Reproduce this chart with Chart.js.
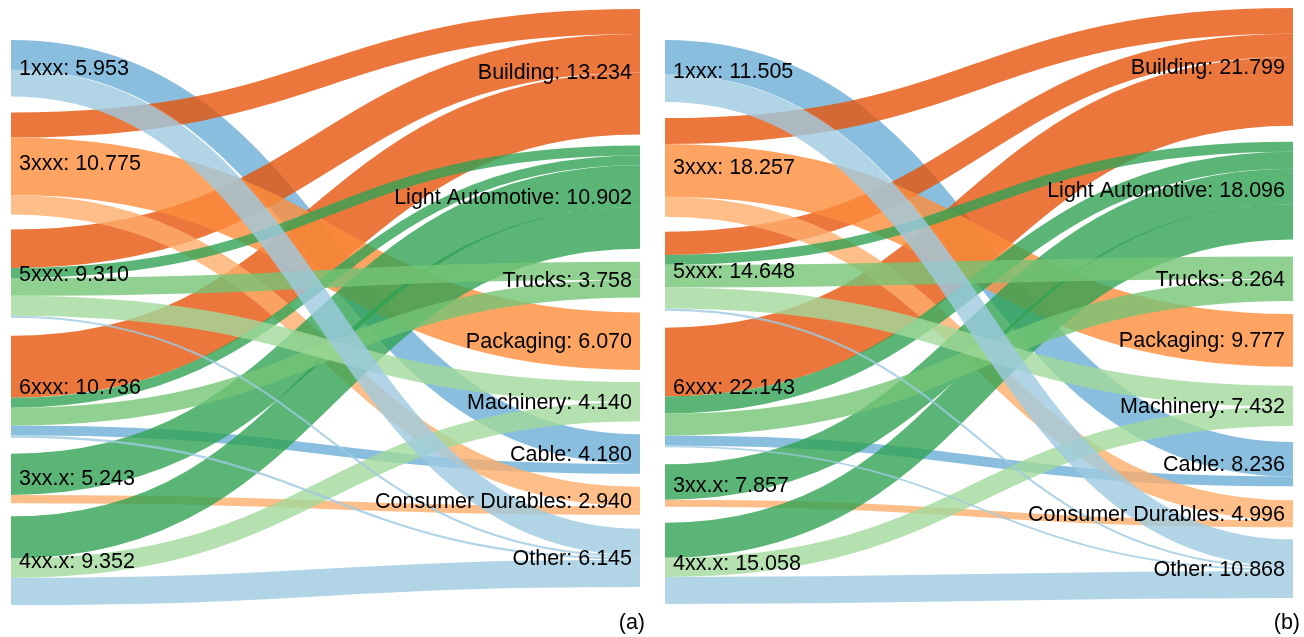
<!DOCTYPE html>
<html>
<head>
<meta charset="utf-8">
<script src="https://cdn.jsdelivr.net/npm/chart.js"></script>
<style>
  html, body { margin: 0; padding: 0; background: #fff; }
  #wrap { position: relative; width: 1304px; height: 637px; overflow: hidden; }
  #wrap canvas { position: absolute; top: 0; }
</style>
</head>
<body>
<div id="wrap">
  <canvas id="chartA" width="652" height="637" style="left:0px"></canvas>
  <canvas id="chartB" width="652" height="637" style="left:652px"></canvas>
</div>
<script>
// alloy series (left column) and end uses (right column)
const sources = ["1xxx", "3xxx", "5xxx", "6xxx", "3xx.x", "4xx.x"];
const targets = ["Building", "Light Automotive", "Trucks", "Packaging", "Machinery", "Cable", "Consumer Durables", "Other"];

// (a)
const sourceTotalsA = [5.953, 10.775, 9.310, 10.736, 5.243, 9.352];
const targetTotalsA = [13.234, 10.902, 3.758, 6.070, 4.140, 4.180, 2.940, 6.145];
// rows = sources, columns = targets (same order as above)
const flowsA = [
  [0, 0, 0, 0, 0, 3.150, 0, 2.803],
  [2.650, 0, 0, 6.070, 0, 0, 2.055, 0],
  [4.050, 1.050, 1.880, 0, 2.100, 0, 0, 0.230],
  [6.534, 1.050, 1.878, 0, 0, 1.030, 0, 0.244],
  [0, 4.358, 0, 0, 0, 0, 0.885, 0],
  [0, 4.444, 0, 0, 2.040, 0, 0, 2.868],
];

// (b)
const sourceTotalsB = [11.505, 18.257, 14.648, 22.143, 7.857, 15.058];
const targetTotalsB = [21.799, 18.096, 8.264, 9.777, 7.432, 8.236, 4.996, 10.868];
const flowsB = [
  [0, 0, 0, 0, 0, 6.400, 0, 5.105],
  [4.784, 0, 0, 9.777, 0, 0, 3.696, 0],
  [4.300, 1.850, 4.200, 0, 3.900, 0, 0, 0.398],
  [12.715, 3.178, 4.064, 0, 0, 1.836, 0, 0.350],
  [0, 6.557, 0, 0, 0, 0, 1.300, 0],
  [0, 6.511, 0, 0, 3.532, 0, 0, 5.015],
];

// link colour follows the end use (category20c shades)
const targetColors = ["#e6550d", "#31a354", "#74c476", "#fd8d3c", "#a1d99b", "#6baed6", "#fdae6b", "#9ecae1"];
// painting order of the end uses, back to front
const drawOrder = [5, 0, 3, 6, 1, 2, 4, 7];

const FONT = "21.5px 'Liberation Sans', Arial, sans-serif";

// work out where each node sits, in value units on the y scale
function buildLayout(p) {
  const sumR = p.targetTotals.reduce((a, b) => a + b, 0);
  const gapsR = p.rightGaps.reduce((a, b) => a + b, 0);
  const k = (p.rightBottom - p.top - gapsR) / sumR; // px per unit

  let acc = (p.leftTop - p.top) / k;
  const srcY = p.sourceTotals.map((v, i) => {
    const s = acc;
    acc += v + (p.leftGaps[i] || 0) / k;
    return s;
  });
  acc = 0;
  const tgtY = p.targetTotals.map((v, j) => {
    const s = acc;
    acc += v + (p.rightGaps[j] || 0) / k;
    return s;
  });

  // stack the links inside their nodes
  const links = [];
  const srcOff = sources.map(() => 0);
  const tgtOff = targets.map(() => 0);
  p.flows.forEach((row, s) => {
    row.forEach((v, t) => {
      if (!v) return;
      links.push({ s, t, v, sy: srcY[s] + srcOff[s], ty: tgtY[t] + tgtOff[t] });
      srcOff[s] += v;
      tgtOff[t] += v;
    });
  });

  return { srcY, tgtY, links, max: (p.bottom - p.top) / k };
}

const sankeyPlugin = {
  id: "sankey",
  afterDatasetsDraw(chart, args, opts) {
    const { ctx, scales } = chart;
    const x = scales.x;
    const y = scales.y;
    const lay = opts.layout;
    const x0 = x.getPixelForValue(0);
    const x1 = x.getPixelForValue(1);
    const xm = (x0 + x1) / 2;

    ctx.save();
    ctx.lineCap = "butt";
    ctx.globalAlpha = 0.8;
    drawOrder.forEach((t) => {
      lay.links
        .filter((l) => l.t === t)
        .forEach((l) => {
          const ya = y.getPixelForValue(l.sy + l.v / 2);
          const yb = y.getPixelForValue(l.ty + l.v / 2);
          const w = Math.abs(y.getPixelForValue(l.v) - y.getPixelForValue(0));
          ctx.strokeStyle = targetColors[t];
          ctx.lineWidth = w;
          ctx.beginPath();
          ctx.moveTo(x0, ya);
          ctx.bezierCurveTo(xm, ya, xm, yb, x1, yb);
          ctx.stroke();
        });
    });
    ctx.restore();

    // node labels, placed on the (invisible) node points
    const pts = chart.getDatasetMeta(0).data;
    ctx.save();
    ctx.font = FONT;
    ctx.fillStyle = "#000";
    ctx.textBaseline = "middle";
    pts.forEach((pt, i) => {
      if (i < sources.length) {
        ctx.textAlign = "left";
        ctx.fillText(sources[i] + ": " + opts.sourceTotals[i].toFixed(3), pt.x + 8, pt.y + 1);
      } else {
        const j = i - sources.length;
        ctx.textAlign = "right";
        ctx.fillText(targets[j] + ": " + opts.targetTotals[j].toFixed(3), pt.x - 8, pt.y + 1);
      }
    });
    ctx.textAlign = "right";
    ctx.fillText(opts.caption, chart.chartArea.right + opts.captionDx, 623);
    ctx.restore();
  },
};

function makePanel(id, p) {
  const lay = buildLayout(p);
  const nodePoints = [
    ...p.sourceTotals.map((v, i) => ({ x: 0, y: lay.srcY[i] + v / 2 })),
    ...p.targetTotals.map((v, j) => ({ x: 1, y: lay.tgtY[j] + v / 2 })),
  ];

  return new Chart(document.getElementById(id), {
    type: "scatter",
    data: {
      datasets: [{ data: nodePoints, pointRadius: 0, pointHoverRadius: 0 }],
    },
    options: {
      responsive: false,
      animation: false,
      events: [],
      layout: {
        padding: { left: p.padLeft, right: p.padRight, top: p.top, bottom: 637 - p.bottom },
      },
      scales: {
        x: { type: "linear", min: 0, max: 1, display: false },
        y: { type: "linear", min: 0, max: lay.max, reverse: true, display: false },
      },
      plugins: {
        legend: { display: false },
        tooltip: { enabled: false },
        sankey: {
          layout: lay,
          sourceTotals: p.sourceTotals,
          targetTotals: p.targetTotals,
          caption: p.caption,
          captionDx: p.captionDx,
        },
      },
    },
    plugins: [sankeyPlugin],
  });
}

makePanel("chartA", {
  sourceTotals: sourceTotalsA,
  targetTotals: targetTotalsA,
  flows: flowsA,
  padLeft: 11,
  padRight: 12,
  top: 9,
  bottom: 605,
  leftTop: 40,
  rightBottom: 587,
  leftGaps: [16, 15, 18, 16, 13],
  rightGaps: [11, 13, 15, 12, 13, 13, 14],
  caption: "(a)",
  captionDx: 5,
});

makePanel("chartB", {
  sourceTotals: sourceTotalsB,
  targetTotals: targetTotalsB,
  flows: flowsB,
  padLeft: 13,
  padRight: 11,
  top: 8,
  bottom: 605,
  leftTop: 40,
  rightBottom: 598,
  leftGaps: [16, 15, 17, 17, 16],
  rightGaps: [16, 17, 13, 19, 16, 14, 12],
  caption: "(b)",
  captionDx: 7,
});
</script>
</body>
</html>
